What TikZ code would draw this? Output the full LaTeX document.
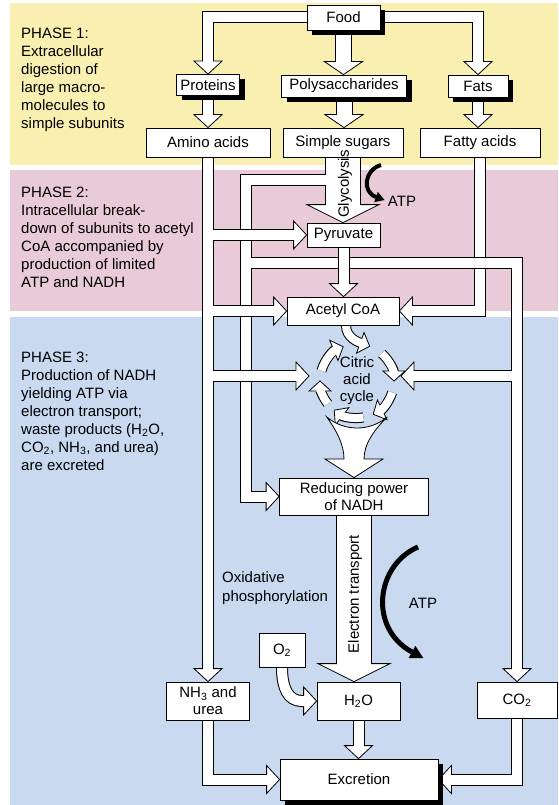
\documentclass[tikz,border=0pt]{standalone}
\usepackage{fontspec}
\setmainfont{Liberation Sans}
\usetikzlibrary{decorations.markings,shadows,backgrounds}

\definecolor{bandone}{RGB}{248,239,176}
\definecolor{bandtwo}{RGB}{233,202,217}
\definecolor{bandthree}{RGB}{200,217,240}

\tikzset{
  tip/.style 2 args={decorate, decoration={markings, mark=at position 1 with {\draw[draw=black, fill=white, line width=.8pt, shorten >=0pt, line join=miter] (0,0) -- (-#1,#2) -- (-#1,-#2) -- cycle;}}},
  tube/.style={white, line width=10pt, shorten >=11pt, preaction={draw, black, line width=12pt, shorten >=12pt}, preaction={tip={13pt}{14pt}}},
  mtube/.style={white, line width=15pt, shorten >=11pt, preaction={draw, black, line width=17pt, shorten >=12pt}, preaction={tip={13pt}{19pt}}},
  wtube/.style={white, line width=34pt, shorten >=16pt, preaction={draw, black, line width=36pt, shorten >=17pt}, preaction={tip={18pt}{36pt}}},
  ctube/.style={white, line width=8pt, shorten >=8pt, preaction={draw, black, line width=10pt, shorten >=9pt}, preaction={tip={10pt}{11pt}}},
  box/.style={draw, fill=white, line width=.8pt, inner sep=0pt, align=center, font=\fontsize{15}{17}\selectfont},
  sbox/.style={box, drop shadow={shadow xshift=5pt, shadow yshift=-5pt, fill=black, opacity=1}},
  phase/.style={anchor=north west, inner sep=0pt, align=left, font=\fontsize{15}{18}\selectfont},
  lbl/.style={inner sep=0pt, font=\fontsize{15}{17}\selectfont},
  atp/.style={black, line width=4pt}
}

\begin{document}
\begin{tikzpicture}[x=1pt,y=1pt]
\useasboundingbox (0,0) rectangle (558,-805);
\node[sbox, minimum width=73pt, minimum height=25pt] (food) at (343.5,-17.5) {Food};
\node[sbox, minimum width=63pt, minimum height=21pt] (prot) at (208,-85) {Proteins};
\node[sbox, minimum width=125pt, minimum height=22pt] (poly) at (344,-86) {Polysaccharides};
\node[sbox, minimum width=60pt, minimum height=22pt] (fats) at (478,-86) {Fats};
\node[box, minimum width=124pt, minimum height=29pt] (amino) at (208,-142.5) {Amino acids};
\node[box, minimum width=120pt, minimum height=29pt] (sugar) at (343,-142.5) {Simple sugars};
\node[box, minimum width=120pt, minimum height=29pt] (fatty) at (480,-142.5) {Fatty acids};
\node[box, minimum width=73pt, minimum height=24pt] (pyr) at (343.5,-235) {Pyruvate};
\node[box, minimum width=112pt, minimum height=28pt] (acoa) at (343,-311) {Acetyl CoA};
\node[lbl, align=center] (cyc) at (357,-381) {Citric\\acid\\cycle};
\node[box, minimum width=149pt, minimum height=37pt] (nadh) at (354,-496.5) {Reducing power\\of NADH};
\node[box, minimum width=46pt, minimum height=34pt] (o2) at (282,-650) {O\textsubscript{2}};
\node[box, minimum width=83pt, minimum height=38pt] (h2o) at (358.5,-701) {H\textsubscript{2}O};
\node[box, minimum width=83pt, minimum height=38pt] (nh3) at (208,-701) {NH\textsubscript{3} and\\urea};
\node[box, minimum width=80pt, minimum height=36pt] (co2) at (517,-700) {CO\textsubscript{2}};
\node[sbox, minimum width=158pt, minimum height=41pt] (excr) at (359,-779.5) {Excretion};
\node[lbl, rotate=90] (gly) at (345,-184) {Glycolysis};
\node[lbl, rotate=90] (etr) at (355,-594) {Electron transport};
\node[lbl] (atp1) at (402,-201) {ATP};
\node[lbl] (atp2) at (423,-603) {ATP};
\node[lbl, anchor=west, align=left, font=\fontsize{15}{19}\selectfont] (oxp) at (222,-588) {Oxidative\\phosphorylation};
\node[phase] (ph1) at (21,-27.5) {PHASE 1:\\Extracellular\\digestion of\\large macro-\\molecules to\\simple subunits};
\node[phase] (ph2) at (21,-186.5) {PHASE 2:\\Intracellular break-\\down of subunits to acetyl\\CoA accompanied by\\production of limited\\ATP and NADH};
\node[phase] (ph3) at (21,-351.5) {PHASE 3:\\Production of NADH\\yielding ATP via\\electron transport;\\waste products (H\textsubscript{2}O,\\CO\textsubscript{2}, NH\textsubscript{3}, and urea)\\are excreted};
\coordinate (bs) at (326,-180);
\coordinate (bc) at (246,-180);
\coordinate (cs) at (251,-263);
\coordinate (cw) at (309,-376);
\coordinate (ce) at (401,-376);
\coordinate (ob) at (302,-701);
\draw[atp] (381,-165) .. controls (364,-170) and (362,-192) .. (376,-197);
\fill[black] (384.5,-200) -- (377.8,-191.8) -- (374.2,-202.2) -- cycle;
\draw[atp, line width=5pt] (418,-547) .. controls (376,-565) and (368,-628) .. (412,-652);
\fill[black] (423.4,-658.2) -- (415.4,-645.9) -- (408.6,-658.1) -- cycle;
\begin{scope}[on background layer]
\fill[white] (0,0) rectangle (558,-805);
\fill[bandone] (10,-3) rectangle (558,-165);
\fill[bandtwo] (10,-170) rectangle (558,-311);
\fill[bandthree] (10,-317) rectangle (558,-805);
\draw[tube] (food.west) -| (prot.north);
\draw[mtube] (food.south) -- (food.south |- poly.north);
\draw[tube] (food.east) -| (fats.north);
\draw[tube] (prot.south) -- (amino.north);
\draw[mtube] (poly.south) -- (poly.south |- sugar.north);
\draw[tube] (fats.south) -- (fats.south |- fatty.north);
\draw[tube] (amino.south) -- (nh3.north);
\draw[tube] (fatty.south) |- (acoa.east);
\draw[wtube] (sugar.south) -- (sugar.south |- pyr.north);
\draw[tube] (bs) -- (bc) |- (nadh.west);
\draw[tube] (cs) -| (co2.north);
\draw[tube] ([xshift=-5pt]co2.north |- ce) -- (ce);
\draw[tube] ([xshift=5pt]amino.south |- pyr.west) -- (pyr.west);
\draw[tube] ([xshift=5pt]amino.south |- acoa.west) -- (acoa.west);
\draw[tube] ([xshift=5pt]amino.south |- cw) -- (cw);
\draw[tube] (pyr.south) -- (pyr.south |- acoa.north);
\draw[ctube] ([xshift=3pt]acoa.south) to[out=-90,in=160] ([shift={(70:37)}]cyc.center);
\draw[ctube] ([shift={(48:37)}]cyc.center) arc (48:0:37);
\draw[ctube] ([shift={(-18:37)}]cyc.center) arc (-18:-64:37);
\draw[ctube] ([shift={(-80:37)}]cyc.center) arc (-80:-128:37);
\draw[ctube] ([shift={(-142:37)}]cyc.center) arc (-142:-180:37);
\draw[ctube] ([shift={(164:37)}]cyc.center) arc (164:112:37);
\draw[line width=.8pt, fill=white] (326.8,-417) arc (-130:-50:47) .. controls (374,-430) and (364,-444) .. (364,-459) -- (383,-459) -- (nadh.north) -- (325,-459) -- (344,-459) .. controls (344,-444) and (336,-430) .. (326.8,-417) -- cycle;
\draw[wtube] (nadh.south) -- (nadh.south |- h2o.north);
\draw[tube] (o2.south) .. controls (282,-688) and (288,-701) .. (ob) -- (h2o.west);
\draw[tube] (nh3.south) |- (excr.west);
\draw[tube] (h2o.south) -- (h2o.south |- excr.north);
\draw[tube] (co2.south) |- (excr.east);
\end{scope}
\end{tikzpicture}
\end{document}
